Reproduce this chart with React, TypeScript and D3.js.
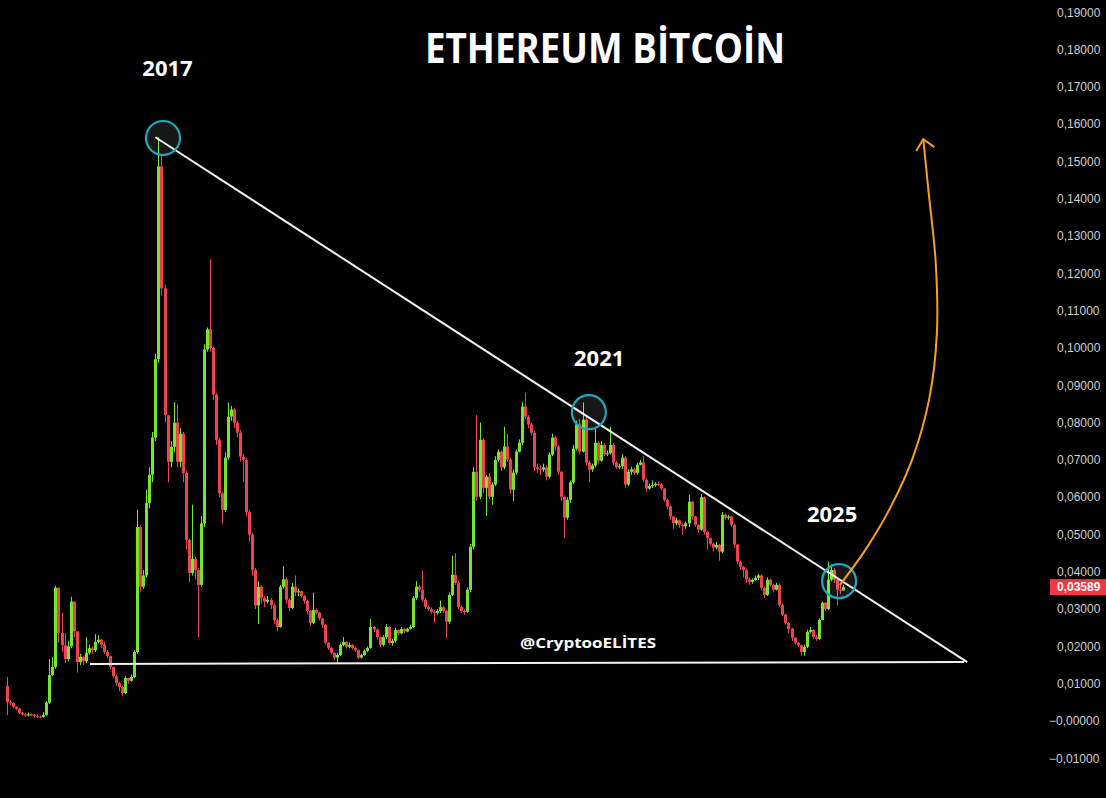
import React from 'react';
import * as d3 from 'd3';

// ETH/BTC candles, values in milli-BTC: [close, high, low]; open = previous close
const firstOpen = 9.4;
const seg2016: [number, number, number][] = [
  [5.0,11.8,1.6],[4.8,5.6,4.2],[3.8,5.0,3.4],[3.3,4.0,2.9],[2.2,3.5,1.9],[1.8,2.4,1.5],[1.5,2.2,1.1],
  [1.8,2.3,1.2],[1.7,2.0,1.3],[1.3,1.9,1.0],[1.2,1.8,0.9],[1.1,1.5,0.8],[1.6,2.4,0.9],[4.9,5.3,1.4],
  [12.3,16.6,4.6],[14.5,17.0,12.0],[35.7,36.2,14.0],[23.6,35.9,21.0],[20.3,29.0,18.5],[16.6,23.6,15.5],
  [20.0,21.5,16.0],[32.0,33.3,19.5],[24.0,32.0,22.5],[15.8,24.0,13.0],[17.2,18.0,15.0],[16.0,17.5,15.0],
  [18.3,22.5,15.5],[19.5,20.5,17.8],[19.0,20.0,18.0],[21.2,23.3,18.5],[21.8,23.0,20.8],[20.5,22.0,19.5],
  [18.5,21.2,18.0],[17.4,19.0,16.8],[14.5,17.5,13.8],[12.0,14.5,11.5],[10.2,12.3,9.5],[9.1,10.5,8.0],
  [7.5,9.4,6.8],[11.5,12.0,7.2],[10.8,11.6,10.0],[11.8,12.5,10.5],[18.5,19.0,11.5],
];
const seg2017: [number, number, number][] = [
  [52.0,56.6,18.0],[36.0,52.5,34.5],[39.0,40.5,35.5],[58.5,62.0,38.5],[66.0,68.0,57.0],[76.0,77.5,64.0],
  [97.0,98.5,75.0],[148.7,156.5,96.0],[116.0,152.0,114.0],[82.0,117.0,80.0],[69.5,82.0,64.0],[73.5,75.0,68.0],
  [80.0,85.5,72.0],[69.5,84.8,68.0],[77.0,78.5,68.0],[66.5,77.5,64.0],[48.6,67.0,46.0],[39.7,49.0,37.3],
  [43.5,58.0,39.0],[40.5,44.0,38.0],[36.5,41.0,22.5],[53.0,55.0,36.0],[99.6,101.0,52.0],[105.0,105.5,99.0],
  [100.0,123.8,99.0],[87.5,100.5,86.0],[75.4,88.0,74.0],[61.0,76.0,60.0],[56.6,61.5,53.0],[70.6,72.0,56.0],
  [81.6,85.4,70.0],[83.5,84.5,80.5],[80.0,84.0,78.5],[77.3,80.5,76.0],[70.9,78.0,69.5],[70.0,71.5,64.0],
  [56.0,70.5,55.0],[50.0,56.5,48.0],[40.5,50.5,39.0],[31.0,41.0,30.0],[36.0,37.5,26.0],[33.0,36.5,31.5],
  [32.0,33.5,30.5],[32.5,33.5,31.5],[31.0,33.0,30.0],[27.0,31.5,26.0],
];
const seg2018: [number, number, number][] = [
  [25.2,27.5,24.0],[36.0,36.5,25.0],[38.0,41.5,35.5],[32.5,38.5,31.5],[30.3,33.0,29.5],[36.0,37.0,30.0],
  [34.5,39.0,33.5],[34.8,35.5,33.5],[33.5,35.0,33.0],[32.2,33.8,31.5],[29.5,32.5,28.5],[26.3,29.8,25.5],
  [29.8,34.4,26.0],[29.0,30.2,28.5],[27.5,29.3,27.0],[25.8,27.6,25.0],[21.0,26.0,20.5],[19.6,21.2,19.0],
  [18.3,19.8,17.8],[17.0,18.4,16.5],[17.7,18.3,15.5],[20.4,20.8,17.4],[21.2,22.5,20.0],[19.9,21.4,19.4],
  [20.4,21.0,19.5],[19.6,20.6,19.2],[19.0,19.8,18.5],[17.0,19.2,16.6],[17.7,18.1,16.8],[18.8,19.2,17.5],
  [19.6,20.0,18.5],[25.2,27.4,19.4],[24.5,25.5,23.8],[22.5,24.8,21.8],[20.4,22.7,19.8],[22.5,23.0,20.0],
  [25.2,26.0,22.0],[20.9,25.4,20.5],[21.5,22.0,20.2],[24.4,25.0,21.0],[23.5,24.6,23.0],[24.7,25.2,23.2],
];
const seg2020: [number, number, number][] = [
  [24.0,25.0,23.5],[24.7,25.0,23.8],[25.2,25.8,24.5],[33.0,33.5,25.0],[36.0,37.5,32.5],[35.2,36.5,34.5],
  [32.5,40.3,32.0],[30.6,33.0,30.0],[30.0,31.0,29.5],[29.3,30.5,28.8],[29.0,29.8,26.3],[29.5,30.0,28.5],
  [30.5,32.3,29.0],[29.5,30.8,29.0],[26.6,29.8,22.3],[33.8,34.5,26.0],[39.2,44.3,33.5],[37.0,45.0,36.5],
  [30.6,37.5,30.0],[29.5,31.0,29.0],[29.3,30.0,28.5],[35.2,35.8,29.0],[46.7,47.5,34.5],[66.8,68.0,46.0],
  [60.1,82.0,59.0],[75.4,80.0,59.5],[62.5,75.8,61.0],[65.5,66.0,55.0],[60.1,66.5,59.5],[63.4,64.0,58.0],
  [70.0,71.0,63.0],[72.2,72.8,69.5],[68.0,72.5,67.0],[73.6,78.9,67.5],[70.1,77.0,69.5],[62.0,70.5,61.0],
  [66.6,67.5,58.9],[72.2,72.8,66.0],[74.6,75.5,72.0],[84.3,85.5,74.0],[81.6,88.0,81.0],[79.5,82.0,78.5],
  [77.3,80.0,76.5],[68.0,77.8,67.0],[67.5,69.0,66.5],[67.4,68.5,66.0],[68.0,69.0,66.8],[65.5,68.5,64.5],
  [71.4,72.0,65.0],[76.0,77.0,71.0],[73.6,76.5,72.5],[66.8,74.0,66.0],
];
const seg2022: [number, number, number][] = [
  [60.1,67.0,59.0],[54.5,60.5,49.0],[59.3,60.0,54.0],[64.0,64.5,58.5],[73.0,74.0,63.5],[79.5,80.5,72.5],
  [72.2,81.0,71.5],[80.8,85.4,72.0],[69.3,81.5,68.5],[67.4,69.8,64.0],[68.5,69.0,66.8],[74.6,78.6,68.0],
  [69.8,75.0,69.0],[74.0,75.0,69.5],[71.5,74.5,71.0],[71.8,72.5,71.0],[74.0,78.9,71.5],[69.3,74.5,68.5],
  [68.0,69.8,67.5],[68.3,69.0,67.5],[70.6,71.5,67.5],[63.4,71.0,62.5],[66.8,67.5,63.0],[67.5,68.2,66.0],
  [66.5,68.0,66.0],[68.7,69.2,66.0],[69.3,70.0,68.5],[64.7,71.0,64.0],[62.3,65.0,61.5],[63.0,63.6,62.0],
  [63.2,64.5,62.5],[63.6,64.0,62.8],[63.4,64.2,62.9],[62.3,63.8,61.8],[59.3,62.5,58.8],[57.5,59.6,56.8],
  [54.8,57.8,54.0],[53.0,55.0,51.5],[53.8,54.5,52.5],[52.6,54.0,51.8],[52.2,53.0,50.0],[53.0,53.5,51.5],
  [58.8,60.7,52.0],[54.8,59.0,54.0],[52.6,55.0,52.0],[51.3,52.8,50.5],[60.0,60.8,51.0],[50.7,60.2,50.0],
  [49.0,51.0,46.0],[47.5,49.3,47.0],[46.5,47.8,45.5],[47.2,48.0,46.0],[45.4,47.5,43.0],[55.3,56.0,45.0],
  [54.5,55.6,54.0],[54.8,55.2,54.0],[52.6,55.0,52.0],[47.3,52.8,46.5],[42.7,47.5,42.0],[41.3,43.0,40.5],
  [40.5,41.6,38.5],[38.0,40.8,37.0],[37.3,38.5,36.5],[37.8,38.2,36.8],
];
const seg2024: [number, number, number][] = [
  [38.4,39.0,37.5],[39.0,39.5,37.8],[35.7,39.3,35.0],[33.8,36.0,33.0],[37.9,38.5,33.5],[36.5,38.2,36.0],
  [35.2,36.8,34.5],[36.5,37.0,35.0],[31.1,36.8,30.5],[28.5,31.5,28.0],[26.3,28.8,25.8],[24.7,26.5,23.5],
  [22.3,25.0,21.5],[21.0,22.5,20.5],[20.3,21.2,19.8],[18.5,20.5,17.5],[19.9,20.5,17.5],[23.9,24.5,19.5],
  [24.4,25.2,23.5],[22.5,24.6,22.0],[22.0,23.0,21.5],[27.1,27.5,21.8],[31.7,32.0,27.0],[30.0,31.9,29.5],
  [37.9,42.7,29.8],[40.5,42.0,37.5],[37.9,41.0,37.0],[35.2,38.3,31.0],[35.0,36.5,34.0],[35.89,36.5,35.0],
];

const yTickValues = [0.19,0.18,0.17,0.16,0.15,0.14,0.13,0.12,0.11,0.10,0.09,0.08,0.07,0.06,0.05,0.04,0.03,0.02,0.01,0,-0.01];
const yTickLabels = ['0,19000','0,18000','0,17000','0,16000','0,15000','0,14000','0,13000','0,12000','0,11000','0,10000','0,09000','0,08000','0,07000','0,06000','0,05000','0,04000','0,03000','0,02000','0,01000','\u22120,00000','\u22120,01000'];
const lastPrice = 0.03589;
const lastPriceLabel = '0,03589';

// annotations in data space: candle index, milli-BTC
const upperTrend = [{ i: 49, v: 156.5 }, { i: 317, v: 15.8 }];
const lowerTrend = [{ i: 27.4, v: 15.3 }, { i: 316, v: 15.8 }];
const circles = [{ i: 51.5, v: 156.3 }, { i: 192.1, v: 82.8 }, { i: 274.7, v: 37.5 }];
const yearLabels = [
  { text: '2017', i: 53, v: 173.0 },
  { text: '2021', i: 195.5, v: 95.2 },
  { text: '2025', i: 272.4, v: 53.4 },
];
const arrowPath = [
  { i: 275.0, v: 36.5 }, { i: 283.5, v: 46.0 }, { i: 291.5, v: 57.0 }, { i: 299.0, v: 70.5 },
  { i: 304.5, v: 86.5 }, { i: 307.0, v: 104.0 }, { i: 306.6, v: 123.0 }, { i: 304.3, v: 141.5 },
  { i: 302.5, v: 156.0 },
];

const GREEN = '#76e62a';
const RED = '#eb4350';

export default function App() {
  const raw = [...seg2016, ...seg2017, ...seg2018, ...seg2020, ...seg2022, ...seg2024];
  const candles = raw.map((d, k) => {
    const open = k === 0 ? firstOpen : raw[k - 1][0];
    return { i: k, o: open / 1000, c: d[0] / 1000, h: d[1] / 1000, l: d[2] / 1000 };
  });
  const N = candles.length;
  const x = d3.scaleLinear().domain([0, N - 1]).range([7, 843]);
  const y = d3.scaleLinear().domain([0, 0.19]).range([721, 12.3]);
  const ym = (v: number) => y(v / 1000);

  const line = d3.line<{ i: number; v: number }>().x(d => x(d.i)).y(d => ym(d.v));
  const curve = d3.line<{ i: number; v: number }>().x(d => x(d.i)).y(d => ym(d.v)).curve(d3.curveCatmullRom.alpha(0.5));
  const tip = arrowPath[arrowPath.length - 1];
  const tx = x(tip.i), ty = ym(tip.v);

  return (
    <svg width={1106} height={798} style={{ position: 'absolute', left: 0, top: 0, background: '#000' }}>
      <rect x={0} y={0} width={1106} height={798} fill="#000" />
      {/* candles */}
      <g>
        {candles.map(d => {
          const cx = Math.round(x(d.i));
          const up = d.c >= d.o;
          const col = up ? GREEN : RED;
          const top = y(Math.max(d.o, d.c));
          const bot = y(Math.min(d.o, d.c));
          return (
            <g key={d.i}>
              <line x1={cx + 0.5} x2={cx + 0.5} y1={y(d.h)} y2={y(d.l)} stroke={col} strokeWidth={1} />
              <rect x={cx - 1} y={top} width={3} height={Math.max(1, bot - top)} fill={col} />
            </g>
          );
        })}
      </g>
      {/* trend lines */}
      <path d={line(lowerTrend) || ''} stroke="#f2f2f2" strokeWidth={2} fill="none" />
      <path d={line(upperTrend) || ''} stroke="#f2f2f2" strokeWidth={2} fill="none" />
      {/* circles */}
      {circles.map((c, k) => (
        <circle key={k} cx={x(c.i)} cy={ym(c.v)} r={17} fill="rgba(255,255,255,0.09)" stroke="#22a7bb" strokeWidth={2.2} />
      ))}
      {/* orange arrow */}
      <path d={curve(arrowPath) || ''} stroke="#f5a01f" strokeWidth={2} fill="none" />
      <path d={`M${tx - 7},${ty + 12} L${tx},${ty} L${tx + 11},${ty + 8}`} stroke="#f5a01f" strokeWidth={2} fill="none" />
      {/* year labels */}
      {yearLabels.map(l => (
        <text key={l.text} x={x(l.i)} y={ym(l.v)} textAnchor="middle" fill="#fff" fontFamily="'Open Sans', sans-serif" fontWeight={700} fontSize={22}>{l.text}</text>
      ))}
      {/* title */}
      <text x={425} y={63} fill="#fff" fontFamily="'Open Sans', sans-serif" fontWeight={700} fontSize={41} textLength={360} lengthAdjust="spacingAndGlyphs">ETHEREUM BİTCOİN</text>
      {/* watermark */}
      <text x={520} y={648} fill="#fff" fontFamily="'Open Sans', sans-serif" fontWeight={700} fontSize={15} textLength={136} lengthAdjust="spacingAndGlyphs">@CryptooELİTES</text>
      {/* y axis */}
      {yTickValues.map((v, k) => (
        <text key={k} x={yTickLabels[k].startsWith('\u2212') ? 1049 : 1057} y={y(v)} dy="0.35em" fill="#cfcfcf" fontFamily="'Liberation Sans', Arial, sans-serif" fontSize={12}>{yTickLabels[k]}</text>
      ))}
      <rect x={1050} y={y(lastPrice) - 8} width={56} height={16} fill="#f23645" />
      <text x={1057} y={y(lastPrice)} dy="0.35em" fill="#fff" fontFamily="'Liberation Sans', Arial, sans-serif" fontWeight={700} fontSize={12}>{lastPriceLabel}</text>
    </svg>
  );
}
